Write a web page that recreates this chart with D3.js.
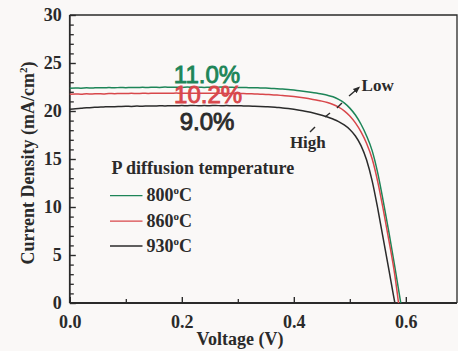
<!DOCTYPE html>
<html>
<head>
<meta charset="utf-8">
<script src="https://cdn.jsdelivr.net/npm/d3@7"></script>
<style>
  html, body { margin: 0; padding: 0; background: #faf8f7; }
  svg { display: block; }
  .tick text { font-family: "Liberation Serif", "Times New Roman", serif; font-weight: bold; font-size: 18px; fill: #2a2a2a; }
</style>
</head>
<body>
<svg id="chart" width="458" height="351"></svg>
<script>
// Voltage sweep (V), shared by all three J–V curves
const voltage = [0.00,0.01,0.02,0.03,0.04,0.05,0.06,0.07,0.08,0.09,
  0.10,0.11,0.12,0.13,0.14,0.15,0.16,0.17,0.18,0.19,
  0.20,0.21,0.22,0.23,0.24,0.25,0.26,0.27,0.28,0.29,
  0.30,0.31,0.32,0.33,0.34,0.35,0.36,0.37,0.38,0.39,
  0.40,0.41,0.42,0.43,0.44,0.45,0.46,0.47,0.48,0.49,
  0.50,0.51,0.52,0.53,0.54,0.55,0.56,0.57,0.58];

// Current density (mA/cm2) for each diffusion temperature
const current800 = [22.36,22.40,22.38,22.41,22.39,22.43,22.41,22.44,22.42,22.45,
  22.43,22.46,22.44,22.47,22.45,22.48,22.46,22.49,22.47,22.48,
  22.46,22.49,22.47,22.48,22.46,22.48,22.47,22.49,22.46,22.47,
  22.45,22.46,22.43,22.43,22.40,22.39,22.35,22.33,22.28,22.24,
  22.18,22.11,22.04,21.96,21.87,21.76,21.64,21.48,21.22,20.85,
  20.30,19.58,18.62,17.40,15.85,13.50,10.50,7.30,3.90];
const current860 = [21.74,21.77,21.75,21.79,21.77,21.80,21.78,21.82,21.80,21.83,
  21.81,21.84,21.82,21.85,21.83,21.86,21.84,21.86,21.84,21.87,
  21.85,21.86,21.84,21.86,21.85,21.86,21.84,21.85,21.83,21.84,
  21.82,21.82,21.79,21.78,21.75,21.73,21.69,21.66,21.61,21.56,
  21.50,21.43,21.35,21.26,21.15,21.03,20.88,20.68,20.40,20.02,
  19.48,18.76,17.82,16.62,15.00,12.60,9.65,6.45,3.05];
const current930 = [20.18,20.24,20.28,20.33,20.36,20.40,20.42,20.45,20.44,20.47,
  20.49,20.48,20.51,20.50,20.53,20.52,20.54,20.53,20.55,20.54,
  20.56,20.55,20.57,20.55,20.56,20.55,20.57,20.55,20.56,20.54,
  20.55,20.53,20.52,20.50,20.48,20.45,20.42,20.37,20.32,20.25,
  20.17,20.08,19.98,19.86,19.72,19.56,19.38,19.16,18.90,18.55,
  18.08,17.40,16.40,14.90,12.70,9.80,6.60,3.40,0.15];

// Open-circuit voltage (V) closing each curve at J = 0
const openCircuit = [0.591, 0.587, 0.5805];

const seriesNames = ["800°C", "860°C", "930°C"];
const efficiencies = ["11.0%", "10.2%", "9.0%"];
const seriesColors = ["#1d8558", "#d8474b", "#2b2b2b"];

const xTicks = [0.0, 0.2, 0.4, 0.6];
const xMinorTicks = [0.1, 0.3, 0.5];
const yTicks = [0, 5, 10, 15, 20, 25, 30];
const yMinorTicks = [1,2,3,4,6,7,8,9,11,12,13,14,16,17,18,19,21,22,23,24,26,27,28,29];

const svg = d3.select("#chart");
const plot = { left: 69.8, right: 457, top: 15, bottom: 303 };

const x = d3.scaleLinear().domain([0, 0.6914]).range([plot.left, plot.right]);
const y = d3.scaleLinear().domain([0, 30]).range([plot.bottom, plot.top]);

const serif = '"Liberation Serif", "Times New Roman", serif';
const sans = '"Liberation Sans", Arial, sans-serif';
const ink = "#2a2a2a";

// Frame: top and right borders
svg.append("path")
  .attr("d", `M${plot.left},${plot.top}H${plot.right}V${plot.bottom}`)
  .attr("fill", "none").attr("stroke", ink).attr("stroke-width", 1.3);

// Minor ticks (inward)
const xMinorAxis = d3.axisBottom(x).tickValues(xMinorTicks).tickSize(-4).tickFormat("");
svg.append("g").attr("transform", `translate(0,${plot.bottom})`).call(xMinorAxis)
  .call(g => g.select(".domain").remove())
  .call(g => g.selectAll("line").attr("stroke", ink).attr("stroke-width", 1.3));
const yMinorAxis = d3.axisLeft(y).tickValues(yMinorTicks).tickSize(-4).tickFormat("");
svg.append("g").attr("transform", `translate(${plot.left},0)`).call(yMinorAxis)
  .call(g => g.select(".domain").remove())
  .call(g => g.selectAll("line").attr("stroke", ink).attr("stroke-width", 1.3));

// Major axes
const xAxis = d3.axisBottom(x).tickValues(xTicks).tickSize(-6).tickPadding(12)
  .tickFormat(d3.format(".1f"));
svg.append("g").attr("transform", `translate(0,${plot.bottom})`).call(xAxis)
  .call(g => g.select(".domain").attr("d", `M${plot.left},0H${plot.right}`).attr("stroke", ink).attr("stroke-width", 1.8))
  .call(g => g.selectAll(".tick line").attr("stroke", ink).attr("stroke-width", 1.4));

const yAxis = d3.axisLeft(y).tickValues(yTicks).tickSize(-6).tickPadding(8)
  .tickFormat(d3.format("d"));
svg.append("g").attr("transform", `translate(${plot.left},0)`).call(yAxis)
  .call(g => g.select(".domain").attr("d", `M0,${plot.top}V${plot.bottom}`).attr("stroke", ink).attr("stroke-width", 1.8))
  .call(g => g.selectAll(".tick line").attr("stroke", ink).attr("stroke-width", 1.4));

// Axis titles
svg.append("text")
  .attr("x", 240).attr("y", 345)
  .attr("text-anchor", "middle")
  .attr("font-family", serif).attr("font-weight", "bold").attr("font-size", 18)
  .attr("fill", ink)
  .text("Voltage (V)");

const yTitle = svg.append("text")
  .attr("transform", `translate(34,${(plot.top + plot.bottom) / 2 + 4}) rotate(-90)`)
  .attr("text-anchor", "middle")
  .attr("font-family", serif).attr("font-weight", "bold").attr("font-size", 18)
  .attr("fill", ink);
yTitle.append("tspan").text("Current Density (mA/cm");
yTitle.append("tspan").attr("dy", -7).attr("font-size", 11).text("2");
yTitle.append("tspan").attr("dy", 7).text(")");

// J–V curves
const currents = [current800, current860, current930];
const line = d3.line().x(d => x(d[0])).y(d => y(d[1])).curve(d3.curveMonotoneX);
currents.forEach((cur, i) => {
  const pts = voltage.map((v, k) => [v, cur[k]]);
  pts.push([openCircuit[i], 0]);
  svg.append("path")
    .datum(pts)
    .attr("d", line)
    .attr("fill", "none")
    .attr("stroke", seriesColors[i])
    .attr("stroke-width", 1.5)
    .attr("stroke-linejoin", "round");
});

// Efficiency labels (V, J anchor of each label)
const effPos = [[0.245, 22.92], [0.247, 20.83], [0.245, 18.02]];
efficiencies.forEach((t, i) => {
  svg.append("text")
    .attr("x", x(effPos[i][0])).attr("y", y(effPos[i][1]))
    .attr("text-anchor", "middle")
    .attr("font-family", sans).attr("font-size", 24)
    .attr("fill", seriesColors[i])
    .attr("stroke", seriesColors[i]).attr("stroke-width", 0.9)
    .text(t);
});

// Low / High annotations
svg.append("defs").append("marker")
  .attr("id", "head").attr("viewBox", "0 0 10 10")
  .attr("refX", 8).attr("refY", 5)
  .attr("markerWidth", 5).attr("markerHeight", 5)
  .attr("orient", "auto")
  .append("path").attr("d", "M0,1L10,5L0,9Z").attr("fill", ink);

const segs = [
  [[0.477, 20.31], [0.486, 20.83], false],
  [[0.4986, 21.56], [0.5164, 22.45], true],
  [[0.4289, 17.81], [0.4379, 18.33], false],
  [[0.4557, 19.375], [0.4646, 19.79], false]
];
segs.forEach(s => {
  const l = svg.append("line")
    .attr("x1", x(s[0][0])).attr("y1", y(s[0][1]))
    .attr("x2", x(s[1][0])).attr("y2", y(s[1][1]))
    .attr("stroke", ink).attr("stroke-width", 1.4);
  if (s[2]) l.attr("marker-end", "url(#head)");
});

svg.append("text")
  .attr("x", x(0.521)).attr("y", y(22.1))
  .attr("font-family", serif).attr("font-weight", "bold").attr("font-size", 17)
  .attr("fill", ink).text("Low");
svg.append("text")
  .attr("x", x(0.393)).attr("y", y(16.1))
  .attr("font-family", serif).attr("font-weight", "bold").attr("font-size", 17)
  .attr("fill", ink).text("High");

// Legend
const legend = svg.append("g");
legend.append("text")
  .attr("x", 111.5).attr("y", 173.5)
  .attr("font-family", serif).attr("font-weight", "bold").attr("font-size", 18)
  .attr("fill", ink).text("P diffusion temperature");
const legendY = [195.7, 221.2, 246];
seriesNames.forEach((name, i) => {
  legend.append("line")
    .attr("x1", 110).attr("x2", 142.5)
    .attr("y1", legendY[i]).attr("y2", legendY[i])
    .attr("stroke", seriesColors[i]).attr("stroke-width", 1.3);
  const t = legend.append("text")
    .attr("x", 146.5).attr("y", legendY[i] + 5.5)
    .attr("font-family", serif).attr("font-weight", "bold").attr("font-size", 18)
    .attr("fill", ink);
  const deg = name.replace("°C", "");
  t.append("tspan").text(deg);
  t.append("tspan").attr("dy", -7).attr("font-size", 11).text("o");
  t.append("tspan").attr("dy", 7).text("C");
});
</script>
</body>
</html>
